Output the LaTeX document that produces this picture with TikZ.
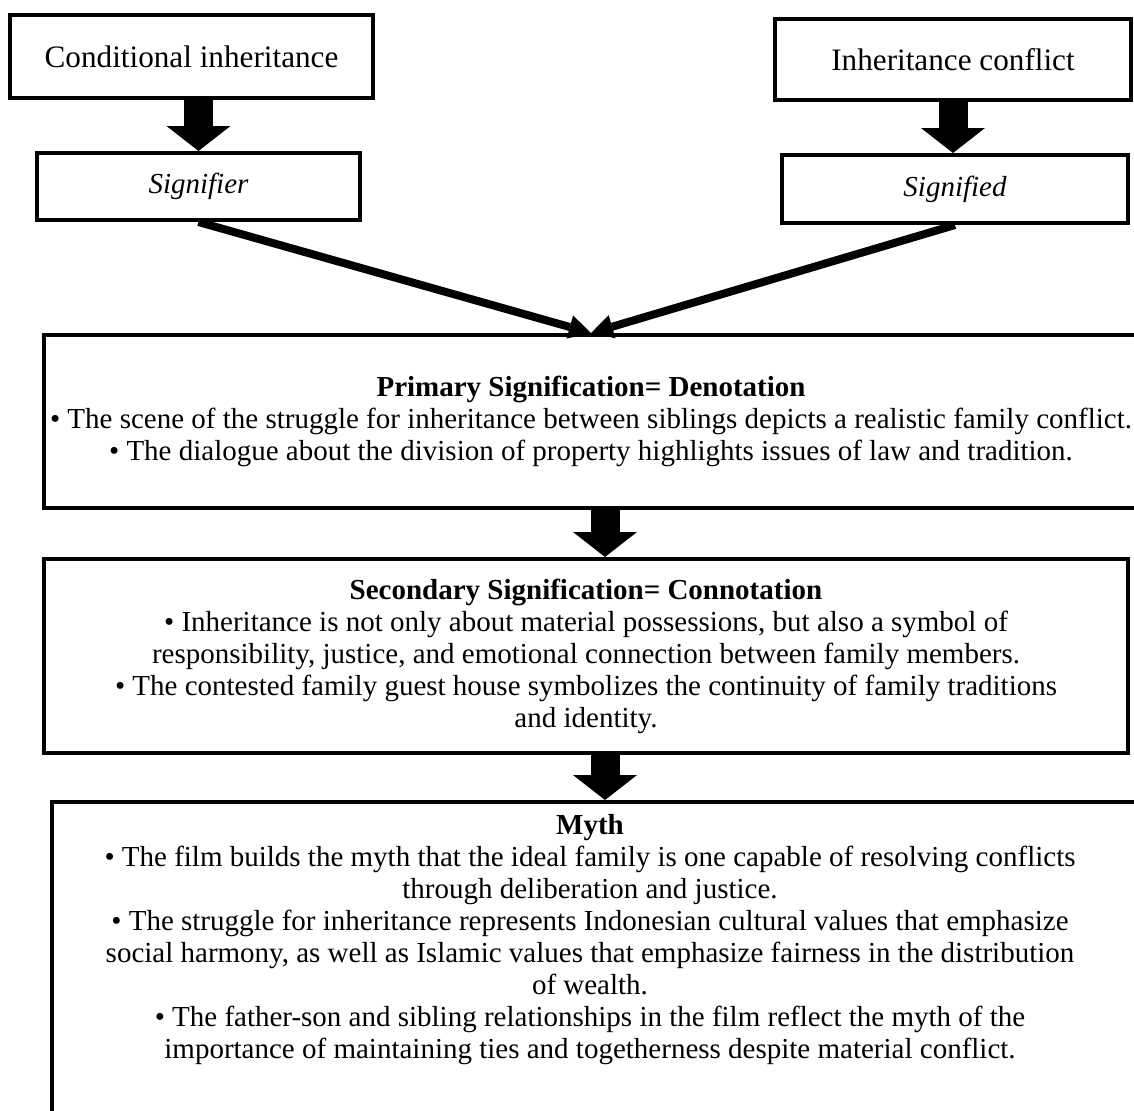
\documentclass[tikz,border=0pt]{standalone}
\usepackage{fontspec}
\setmainfont{Liberation Serif}
\usetikzlibrary{arrows.meta,calc}

\begin{document}
\begin{tikzpicture}[x=0.5pt, y=-0.5pt, font=\fontsize{14.5}{16}\selectfont,
  box/.style={draw=black, line width=2pt, fill=white, inner sep=0pt, align=center},
  titlebox/.style={box, font=\fontsize{15.6}{17}\selectfont},
  blockarrow/.style={-{Triangle[length=12.5pt, width=32pt, line width=0pt]}, line width=14.5pt, draw=black},
  arrow/.style={-{Triangle[length=11pt, width=12pt, line width=0pt]}, line width=4pt, draw=black}]
  \useasboundingbox (0,0) rectangle (1134,1110);
  \clip (0,0) rectangle (1134,1110);
  \node[titlebox, minimum width=181.5pt, minimum height=41.5pt] (cond) at (191.5,56.5) {Conditional inheritance};
  \node[box, minimum width=161.5pt, minimum height=33.5pt] (signifier) at (198.5,186.5) {\itshape Signifier};
  \node[titlebox, minimum width=178pt, minimum height=40.5pt] (conflict) at (953,59.5) {Inheritance conflict};
  \node[box, minimum width=173pt, minimum height=34pt] (signified) at (955,189) {\itshape Signified};
  \node[box, minimum width=547pt, minimum height=86.5pt] (primary) at (591,421.5) {\textbf{Primary Signification= Denotation}\\
    • The scene of the struggle for inheritance between siblings depicts a realistic family conflict.\\
    • The dialogue about the division of property highlights issues of law and tradition.};
  \node[box, minimum width=542pt, minimum height=97pt] (secondary) at (586,656) {\textbf{Secondary Signification= Connotation}\\
    • Inheritance is not only about material possessions, but also a symbol of\\
    responsibility, justice, and emotional connection between family members.\\
    • The contested family guest house symbolizes the continuity of family traditions\\
    and identity.};
  \node[box, minimum width=544pt, minimum height=164pt] (myth) at (596,966) {};
  \node[align=center] (mythtext) at (590,940) {\textbf{Myth}\\
    • The film builds the myth that the ideal family is one capable of resolving conflicts\\
    through deliberation and justice.\\
    • The struggle for inheritance represents Indonesian cultural values that emphasize\\
    social harmony, as well as Islamic values that emphasize fairness in the distribution\\
    of wealth.\\
    • The father-son and sibling relationships in the film reflect the myth of the\\
    importance of maintaining ties and togetherness despite material conflict.};
  \coordinate (mid) at (605,0);
  \draw[blockarrow] (cond.south -| signifier.north) -- (signifier.north);
  \draw[blockarrow] (conflict.south) -- (conflict.south |- signified.north);
  \draw[blockarrow] (primary.south -| mid) -- (secondary.north -| mid);
  \draw[blockarrow] (secondary.south -| mid) -- (myth.north -| mid);
  \draw[arrow] (signifier.south) -- (primary.north);
  \draw[arrow] (signified.south) -- (primary.north);
\end{tikzpicture}
\end{document}
